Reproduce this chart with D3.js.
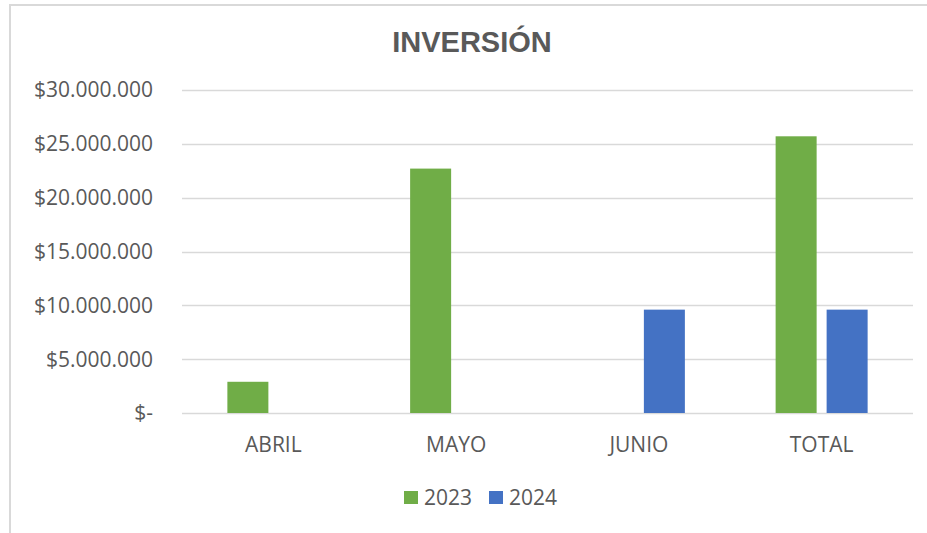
<!DOCTYPE html>
<html>
<head>
<meta charset="utf-8">
<script src="https://cdn.jsdelivr.net/npm/d3@7"></script>
<style>
  body { margin: 0; background: #fff; }
  text { font-family: "Open Sans", sans-serif; fill: #595959; }
</style>
</head>
<body>
<svg id="chart" width="927" height="533"></svg>
<script>
var categories = ['ABRIL', 'MAYO', 'JUNIO', 'TOTAL'];
var seriesNames = ['2023', '2024'];
var values2023 = [2900000, 22700000, 0, 25700000];
var values2024 = [0, 0, 9600000, 9600000];
var yTicks = [0, 5000000, 10000000, 15000000, 20000000, 25000000, 30000000];
var colors = ['#70ad47', '#4472c4'];

var margin = {top: 90, right: 14, bottom: 120, left: 182};
var width = 927 - margin.left - margin.right;
var height = 533 - margin.top - margin.bottom;

var svg = d3.select('#chart');

// chart area border (top and left visible)
svg.append('path')
    .attr('d', 'M10,540 L10,5 L940,5')
    .attr('fill', 'none')
    .attr('stroke', '#d9d9d9')
    .attr('stroke-width', 2);

svg.append('text')
    .attr('x', 472)
    .attr('y', 52)
    .attr('text-anchor', 'middle')
    .style('font-family', '"Liberation Sans", Arial, sans-serif')
    .style('font-weight', 'bold')
    .style('font-size', '29px')
    .text('INVERSIÓN');

var g = svg.append('g')
    .attr('transform', 'translate(' + margin.left + ',' + margin.top + ')');

var y = d3.scaleLinear().domain([0, 30000000]).range([height, 0]);
var x0 = d3.scaleBand().domain(categories).range([0, width]);
var groupW = 92;
var x1 = d3.scaleBand().domain(seriesNames).range([0, groupW]).paddingInner(0.196);

var fmt = function(v) {
    if (v === 0) return '$-';
    return '$' + d3.format(',')(v).replace(/,/g, '.');
};

// gridlines
g.selectAll('line.grid')
    .data(yTicks)
    .enter()
    .append('line')
    .attr('class', 'grid')
    .attr('x1', 0)
    .attr('x2', width)
    .attr('y1', function(d) { return Math.round(y(d)) + 0.5; })
    .attr('y2', function(d) { return Math.round(y(d)) + 0.5; })
    .attr('stroke', '#d9d9d9')
    .attr('stroke-width', 1.5);

// y labels
g.selectAll('text.ylab')
    .data(yTicks)
    .enter()
    .append('text')
    .attr('class', 'ylab')
    .attr('x', -29)
    .attr('y', function(d) { return y(d); })
    .attr('dy', '0.35em')
    .attr('text-anchor', 'end')
    .style('font-size', '21px')
    .text(fmt);

// bars
var data = categories.map(function(c, i) {
    return {cat: c, vals: [{s: '2023', v: values2023[i]}, {s: '2024', v: values2024[i]}]};
});

var groups = g.selectAll('g.cat')
    .data(data)
    .enter()
    .append('g')
    .attr('class', 'cat')
    .attr('transform', function(d) {
        return 'translate(' + (x0(d.cat) + (x0.bandwidth() - groupW) / 2) + ',0)';
    });

groups.selectAll('rect')
    .data(function(d) { return d.vals.filter(function(v) { return v.v > 0; }); })
    .enter()
    .append('rect')
    .attr('x', function(d) { return x1(d.s); })
    .attr('width', x1.bandwidth())
    .attr('y', function(d) { return y(d.v); })
    .attr('height', function(d) { return height - y(d.v); })
    .attr('fill', function(d) { return colors[seriesNames.indexOf(d.s)]; });

// x labels
g.selectAll('text.xlab')
    .data(categories)
    .enter()
    .append('text')
    .attr('class', 'xlab')
    .attr('x', function(d) { return x0(d) + x0.bandwidth() / 2; })
    .attr('y', height + 39)
    .attr('text-anchor', 'middle')
    .style('font-size', '21px')
    .text(function(d) { return d; });

// legend
var legend = svg.append('g').attr('transform', 'translate(404,498)');
var items = legend.selectAll('g')
    .data(seriesNames)
    .enter()
    .append('g')
    .attr('transform', function(d, i) { return 'translate(' + (i * 85) + ',0)'; });
items.append('rect')
    .attr('x', 0)
    .attr('y', -7)
    .attr('width', 14)
    .attr('height', 13)
    .attr('fill', function(d, i) { return colors[i]; });
items.append('text')
    .attr('x', 20)
    .attr('y', 0)
    .attr('dy', '0.35em')
    .style('font-size', '21px')
    .text(function(d) { return d; });
</script>
</body>
</html>
